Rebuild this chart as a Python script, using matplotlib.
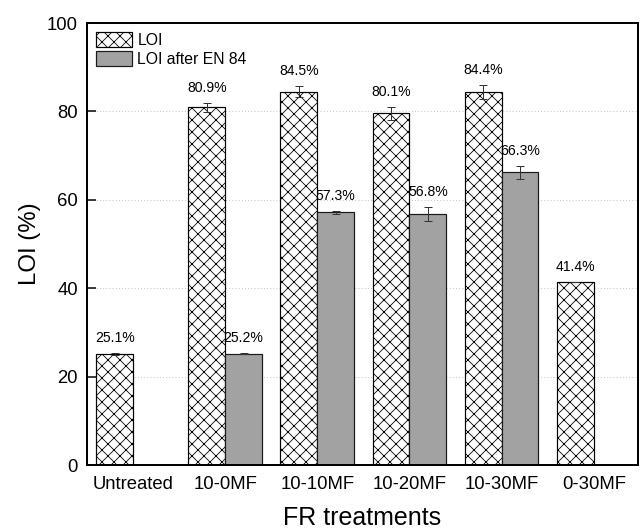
import numpy as np
import matplotlib
matplotlib.use("Agg")
import matplotlib.pyplot as plt

categories = ["Untreated", "10-0MF", "10-10MF", "10-20MF", "10-30MF", "0-30MF"]
loi = [25.1, 80.9, 84.5, 79.6, 84.4, 41.4]
loi_err = [0.2, 1.0, 1.3, 1.5, 1.5, 0.1]
loi_labels = ["25.1%", "80.9%", "84.5%", "80.1%", "84.4%", "41.4%"]
loi_en84 = [np.nan, 25.2, 57.2, 56.7, 66.2, np.nan]
loi_en84_err = [np.nan, 0.1, 0.3, 1.6, 1.4, np.nan]
loi_en84_labels = ["", "25.2%", "57.3%", "56.8%", "66.3%", ""]
yticks = [0, 20, 40, 60, 80, 100]

plt.rcParams['font.family'] = ['Liberation Sans', 'DejaVu Sans']
plt.rcParams['hatch.linewidth'] = 0.8

DPI = 72
fig = plt.figure(figsize=(642 / DPI, 532 / DPI), dpi=DPI)
ax = fig.add_axes([87 / 642, 1 - 465 / 532, (638 - 87) / 642, (465 - 23) / 532])

x = np.arange(len(categories))
w = 0.4

b1 = ax.bar(x - w / 2, loi, w, facecolor='white', edgecolor='black',
            hatch='xx', linewidth=1.2, label='LOI', zorder=2)
b2 = ax.bar(x + w / 2, loi_en84, w, facecolor='#a2a2a2', edgecolor='#1a1a1a',
            linewidth=1.2, label='LOI after EN 84', zorder=2)
ax.errorbar(x - w / 2, loi, yerr=loi_err, fmt='none', ecolor='#333333',
            elinewidth=1.0, capsize=4, capthick=1.0, zorder=3)
ax.errorbar(x + w / 2, loi_en84, yerr=loi_en84_err, fmt='none', ecolor='#333333',
            elinewidth=1.0, capsize=4, capthick=1.0, zorder=3)

for xi, v, e, t in zip(x - w / 2, loi, loi_err, loi_labels):
    ax.annotate(t, (xi, v + e), xytext=(0, 8), textcoords='offset points',
                ha='center', va='bottom', fontsize=14)
for xi, v, e, t in zip(x + w / 2, loi_en84, loi_en84_err, loi_en84_labels):
    if t:
        ax.annotate(t, (xi, v + e), xytext=(0, 8), textcoords='offset points',
                    ha='center', va='bottom', fontsize=14)

ax.set_xlim(-0.5, 5.48)
ax.set_ylim(0, 100)
ax.set_yticks(yticks)
ax.set_xticks(x)
ax.set_xticklabels(categories)
ax.tick_params(axis='y', direction='in', length=9, width=1.5, labelsize=18.5, pad=9)
ax.tick_params(axis='x', length=0, labelsize=18.5, pad=11)
ax.yaxis.grid(True, linestyle=(0, (1, 2.5)), color='#b8b8b8', linewidth=0.9, zorder=0)
ax.set_axisbelow(True)
for s in ax.spines.values():
    s.set_linewidth(2.0)

ax.set_ylabel('LOI (%)', fontsize=24, va='center')
ax.yaxis.set_label_coords((30 - 87) / 551, 0.5)
ax.set_xlabel('FR treatments', fontsize=25, va='center')
ax.xaxis.set_label_coords(0.5, (465 - 518) / 442)

ax.legend(loc='upper left', bbox_to_anchor=(0, 1), borderaxespad=0, borderpad=0.55,
          frameon=False, fontsize=15.8, handlelength=2.28, handleheight=1.1,
          handletextpad=0.36, labelspacing=0.2)

fig.savefig('out.png', dpi=DPI)
